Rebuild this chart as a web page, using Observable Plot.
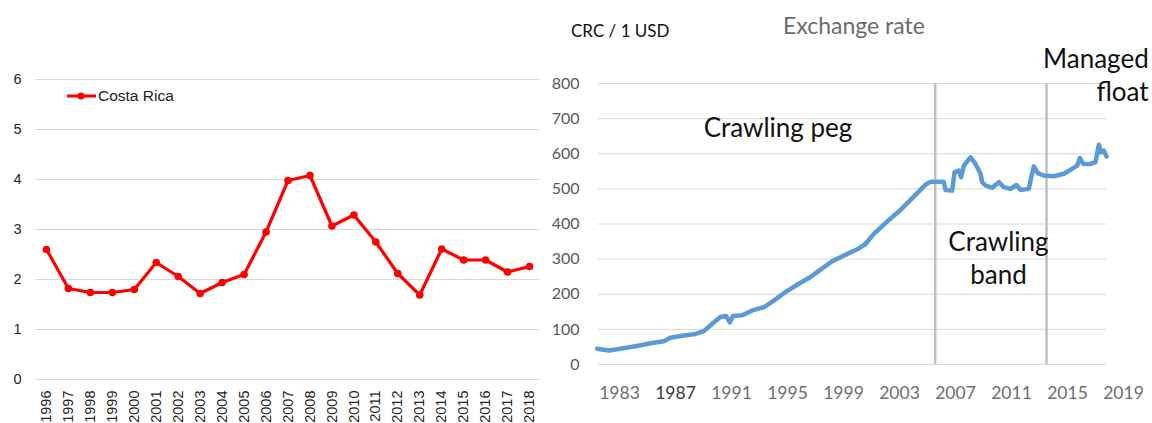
<!DOCTYPE html>
<html>
<head>
<meta charset="utf-8">
<script src="https://cdn.jsdelivr.net/npm/d3@7"></script>
<script src="https://cdn.jsdelivr.net/npm/@observablehq/plot@0.6"></script>
<style>
  body { margin: 0; background: #fff; }
  #wrap { position: relative; width: 1152px; height: 423px; overflow: hidden; background: #fff; }
  #left { position: absolute; left: 0; top: 0; }
  #right { position: absolute; left: 560px; top: 0; }
  .legend { position: absolute; left: 67px; top: 87px; font: 15.5px "Liberation Sans", Arial, sans-serif; color: #222; display: flex; align-items: center; white-space: nowrap; }
  .legend svg { margin-right: 2px; }
  .ytitle { position: absolute; left: 571px; top: 20px; font: 17px Lato, sans-serif; color: #111; white-space: nowrap; }
  .title { position: absolute; left: 783px; top: 11px; font: 23px Lato, sans-serif; color: #6b6b6b; white-space: nowrap; }
</style>
</head>
<body>
<div id="wrap">
  <div id="left"></div>
  <div id="right"></div>
  <div class="legend"><svg width="29" height="10"><line x1="0" y1="5" x2="29" y2="5" stroke="#ff0000" stroke-width="3"/><circle cx="14" cy="5" r="3.5" fill="#ff0000"/></svg><span>Costa Rica</span></div>
  <div class="ytitle">CRC / 1 USD</div>
  <div class="title">Exchange rate</div>
</div>
<script>
// ---- Left chart data ----
const years = [1996, 1997, 1998, 1999, 2000, 2001, 2002, 2003, 2004, 2005, 2006, 2007,
               2008, 2009, 2010, 2011, 2012, 2013, 2014, 2015, 2016, 2017, 2018];
const costaRica = [2.60, 1.82, 1.74, 1.74, 1.80, 2.34, 2.06, 1.72, 1.94, 2.10, 2.95, 3.98,
                   4.08, 3.07, 3.29, 2.75, 2.12, 1.69, 2.61, 2.39, 2.39, 2.15, 2.26];
const leftYTicks = [0, 1, 2, 3, 4, 5, 6];

// ---- Right chart data (CRC per 1 USD) ----
const fxYears = [1981.4, 1982.24, 1982.95, 1984.14, 1985.33, 1986.17, 1986.64, 1987.48, 1988.43,
  1989.02, 1989.62, 1990.21, 1990.62, 1990.88, 1991.1, 1991.76, 1992.48, 1993.31, 1994.02,
  1994.74, 1995.69, 1996.64, 1997.36, 1998.19, 1999.02, 1999.98, 2000.57, 2001.17, 2002.12,
  2003.07, 2004.02, 2004.86, 2005.21, 2006.16, 2006.29, 2006.76, 2006.93, 2007.24, 2007.4,
  2007.6, 2008.07, 2008.43, 2008.79, 2008.9, 2009.14, 2009.62, 2010.1, 2010.45, 2010.93,
  2011.36, 2011.64, 2012.24, 2012.41, 2012.6, 2012.88, 2013.31, 2014.02, 2014.74, 2015.21,
  2015.69, 2015.88, 2016.12, 2016.64, 2017.0, 2017.24, 2017.4, 2017.6, 2017.79];
const fxRate = [45, 40, 44, 52, 61, 66, 76, 82, 87,
  95, 116, 135, 138, 120, 138, 140, 154, 163, 182,
  203, 227, 249, 270, 294, 310, 328, 343, 372, 407,
  440, 478, 512, 520, 520, 497, 495, 547, 552, 533,
  566, 590, 571, 543, 519, 510, 503, 519, 505, 500,
  511, 497, 500, 533, 564, 545, 538, 536, 543, 554,
  566, 588, 571, 571, 576, 626, 604, 609, 592];
const rightYTicks = [0, 100, 200, 300, 400, 500, 600, 700, 800];
const rightXTicks = [1983, 1987, 1991, 1995, 1999, 2003, 2007, 2011, 2015, 2019];
const regimeBreaks = [2005.55, 2013.5];
const regimeNames = ["Crawling peg", "Crawling\nband", "Managed\nfloat"];

const leftData = years.map((y, i) => ({year: y, value: costaRica[i]}));
const fxData = fxYears.map((t, i) => ({t, v: fxRate[i]}));

const left = Plot.plot({
  width: 560, height: 423,
  marginLeft: 35, marginRight: 20, marginTop: 79, marginBottom: 44,
  style: {fontFamily: '"Liberation Sans", Arial, sans-serif', fontSize: "14px", color: "#262626", background: "transparent"},
  x: {domain: [years[0] - 0.5, years[years.length - 1] + 0.5], axis: null},
  y: {domain: [0, 6], axis: null},
  marks: [
    Plot.ruleY(leftYTicks, {stroke: "#d9d9d9", strokeWidth: 1}),
    Plot.axisY({ticks: leftYTicks, tickSize: 0, tickPadding: 14, fontSize: 14.5, label: null, tickFormat: d => String(d)}),
    Plot.axisX({ticks: years, tickRotate: -90, tickSize: 0, tickPadding: 11, fontSize: 14.5, label: null, tickFormat: d => String(d)}),
    Plot.line(leftData, {x: "year", y: "value", stroke: "#ff0000", strokeWidth: 3.2}),
    Plot.dot(leftData, {x: "year", y: "value", r: 3.8, fill: "#ff0000"})
  ]
});
document.getElementById("left").appendChild(left);

const right = Plot.plot({
  width: 592, height: 423,
  marginLeft: 38, marginRight: 46, marginTop: 83, marginBottom: 59,
  style: {fontFamily: 'Lato, sans-serif', fontSize: "16px", color: "#595959", background: "transparent", overflow: "visible"},
  x: {domain: [1981.5, 2017.786], axis: null},
  y: {domain: [0, 800], axis: null},
  marks: [
    Plot.ruleY(rightYTicks, {stroke: "#d9d9d9", strokeWidth: 1}),
    Plot.ruleX(regimeBreaks, {y1: 0, y2: 800, stroke: "#bfbfbf", strokeWidth: 2.5}),
    Plot.line(fxData, {x: "t", y: "v", stroke: "#5b9bd5", strokeWidth: 4.5, strokeLinejoin: "round"}),
    Plot.axisY({ticks: rightYTicks, tickSize: 0, tickPadding: 19, fontSize: 16, fill: "#595959", label: null}),
    Plot.text(rightXTicks, {x: d => d, y: 0, dy: 29, text: d => String(d), fontSize: 17.5,
      fill: d => d === 1987 ? "#3a3a3a" : "#6e6e6e"}),
    Plot.text([regimeNames[0]], {x: 1994.32, y: 672, text: d => d, fontSize: 26, fill: "#111"}),
    Plot.text([regimeNames[1]], {x: 2010.07, y: 305, text: d => d, fontSize: 26, fill: "#111", lineHeight: 1.27}),
    Plot.text([regimeNames[2]], {x: 2020.8, y: 828, text: d => d, fontSize: 26, fill: "#111", textAnchor: "end", lineHeight: 1.3})
  ]
});
document.getElementById("right").appendChild(right);
</script>
</body>
</html>
